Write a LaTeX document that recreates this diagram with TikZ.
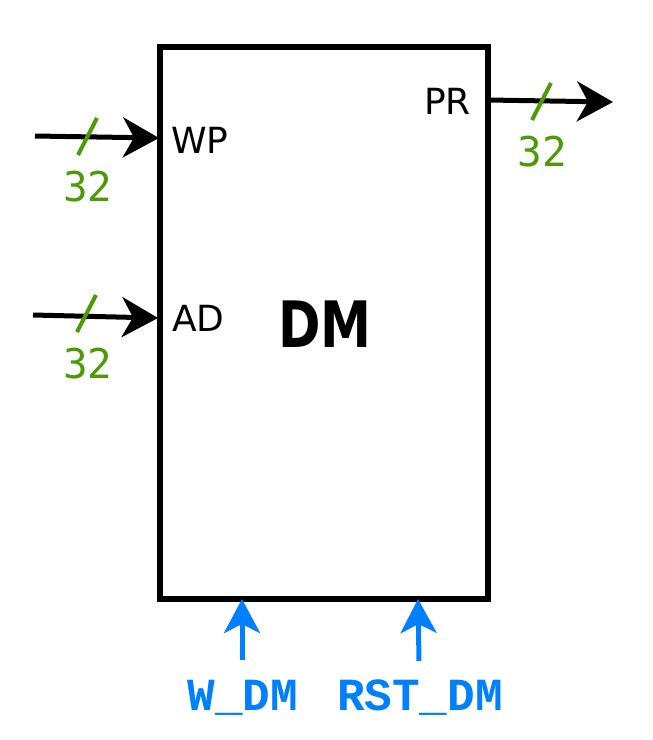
\documentclass[tikz,border=0pt]{standalone}
\usepackage{fontspec}
\setmainfont{DejaVu Sans}
\newfontfamily\monofont{DejaVu Sans Mono}
\newfontfamily\monobold{Liberation Mono}[BoldFont={* Bold}]
\usetikzlibrary{arrows.meta}
\definecolor{busgreen}{RGB}{78,154,6}
\definecolor{ctlblue}{RGB}{0,128,255}
\begin{document}
\begin{tikzpicture}[x=1pt,y=-1pt,
  wire/.style={line width=5pt,-{Stealth[length=36pt,width=40pt,inset=11pt]}},
  ctl/.style={line width=5pt,ctlblue,-{Stealth[length=34pt,width=36pt,inset=9pt]}},
  tick/.style={busgreen,line width=4pt},
  width/.style={busgreen,font=\monofont\fontsize{41}{44}\selectfont,inner sep=0pt},
  port/.style={font=\fontsize{36}{40}\selectfont,inner sep=0pt},
  ctllabel/.style={ctlblue,font=\monobold\bfseries\fontsize{46}{50}\selectfont,inner sep=0pt}]
\useasboundingbox (0,0) rectangle (653,740);
\node[draw,line width=5.5pt,minimum width=328pt,minimum height=552pt,inner sep=0pt] (dm) at (324,323) {};
\node[font=\bfseries\fontsize{64}{70}\selectfont,inner sep=0pt] (title) at (325,324) {\scalebox{0.8}[1]{DM}};
% ports
\node[port,anchor=west] (wp) at (171,140) {WP};
\node[port,anchor=west] (ad) at (172,318) {AD};
\node[port,anchor=east] (pr) at (471,101) {PR};
% input/output wires
\coordinate (wpin) at (35,136);
\coordinate (wpend) at (159,138);
\coordinate (adin) at (33,315);
\coordinate (adend) at (158,318);
\coordinate (prstart) at (488,100);
\coordinate (prout) at (613,102);
\draw[wire] (wpin) -- (wpend);
\draw[wire] (adin) -- (adend);
\draw[wire] (prstart) -- (prout);
% bus width ticks
\draw[tick] (78,155) -- (97,118);
\draw[tick] (77,332) -- (96,295);
\draw[tick] (532,120) -- (551,83);
\node[width] (w1) at (88,187) {32};
\node[width] (w2) at (88,364) {32};
\node[width] (w3) at (542,152) {32};
% control signals
\node[ctllabel] (wdm) at (243,698) {W\_DM};
\node[ctllabel] (rstdm) at (420,698) {RST\_DM};
\coordinate (wdmbase) at (242,660);
\coordinate (wdmtip) at (242,599);
\coordinate (rstbase) at (419,661);
\coordinate (rsttip) at (418,599);
\draw[ctl] (wdmbase) -- (wdmtip);
\draw[ctl] (rstbase) -- (rsttip);
\end{tikzpicture}
\end{document}
